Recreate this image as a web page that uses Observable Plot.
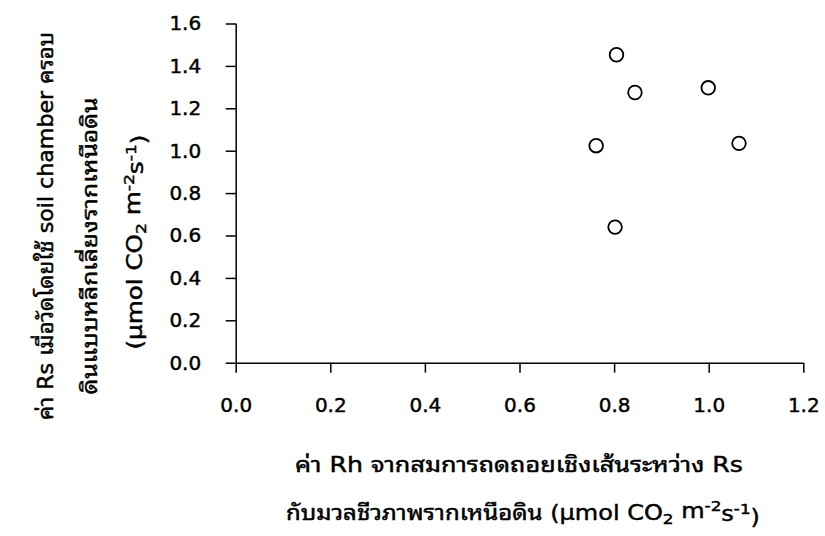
<!DOCTYPE html>
<html>
<head>
<meta charset="utf-8">
<script src="https://cdn.jsdelivr.net/npm/d3@7"></script>
<script src="https://cdn.jsdelivr.net/npm/@observablehq/plot@0.6"></script>
<style>
  html, body { margin: 0; padding: 0; background: #ffffff; }
  #chart { width: 825px; height: 536px; }
  #chart svg text { stroke: #000; stroke-width: 0.45px; paint-order: fill; }
</style>
</head>
<body>
<div id="chart"></div>
<script>
// Data
const rhValues = [0.761, 0.804, 0.801, 0.843, 0.998, 1.063]; // x: Rh from regression
const rsValues = [1.026, 1.455, 0.642, 1.277, 1.299, 1.037]; // y: Rs measured
const xTicks = [0.0, 0.2, 0.4, 0.6, 0.8, 1.0, 1.2];
const yTicks = [0.0, 0.2, 0.4, 0.6, 0.8, 1.0, 1.2, 1.4, 1.6];
const xTitleLines = ["ค่า Rh จากสมการถดถอยเชิงเส้นระหว่าง Rs", "กับมวลชีวภาพรากเหนือดิน"];
const yTitleLines = ["ค่า Rs เมื่อวัดโดยใช้ soil chamber ครอบ", "ดินแบบหลีกเลี่ยงรากเหนือดิน"];

const points = rhValues.map((x, i) => ({x, y: rsValues[i]}));
const FONT = "'DejaVu Sans', 'Noto Sans Thai Looped', Loma, Garuda, Tahoma, 'Noto Sans Thai', sans-serif";
const fmt = d => d.toFixed(1);

const chart = Plot.plot({
  width: 825,
  height: 536,
  marginLeft: 235.7,
  marginRight: 21.7,
  marginTop: 23.5,
  marginBottom: 173.3,
  style: {fontFamily: FONT, fontSize: "20px", color: "#000", background: "#fff", fontWeight: 400},
  x: {domain: [0, 1.2]},
  y: {domain: [0, 1.6]},
  marks: [
    Plot.axisX({ticks: xTicks, tickFormat: fmt, tickSize: 10, tickPadding: 25, label: null, strokeWidth: 1.5, stroke: "#000"}),
    Plot.axisY({ticks: yTicks, tickFormat: fmt, tickSize: 10, tickPadding: 25, label: null, strokeWidth: 1.5, stroke: "#000"}),
    Plot.ruleY([0], {stroke: "#000", strokeWidth: 1.5}),
    Plot.ruleX([0], {stroke: "#000", strokeWidth: 1.5}),
    Plot.dot(points, {x: "x", y: "y", r: 6.8, stroke: "#000", strokeWidth: 1.8, fill: "#fff"})
  ]
});
document.getElementById("chart").appendChild(chart);

const svg = d3.select(chart);
function addUnit(t) {
  t.append("tspan").text("(µmol CO");
  t.append("tspan").attr("dy", "0.3em").attr("font-size", "0.7em").text("2");
  t.append("tspan").attr("dy", "-0.3em").text(" m");
  t.append("tspan").attr("dy", "-0.45em").attr("font-size", "0.7em").text("-2");
  t.append("tspan").attr("dy", "0.45em").text("s");
  t.append("tspan").attr("dy", "-0.45em").attr("font-size", "0.7em").text("-1");
  t.append("tspan").attr("dy", "0.45em").text(")");
}
const tg = svg.append("g")
  .attr("font-family", FONT).attr("font-size", 21).attr("font-weight", 400).attr("fill", "#000");

function fit(t, len) {
  t.attr("textLength", len).attr("lengthAdjust", "spacingAndGlyphs");
}

// X title
fit(tg.append("text").attr("x", 519).attr("y", 471.7).attr("text-anchor", "middle").text(xTitleLines[0]), 448);
const x2 = tg.append("text").attr("x", 523).attr("y", 520).attr("text-anchor", "middle");
x2.append("tspan").text(xTitleLines[1] + " ");
addUnit(x2);
fit(x2, 474);

// Y title (rotated)
fit(tg.append("text").attr("transform", `translate(53,226) rotate(-90)`).attr("text-anchor", "middle").text(yTitleLines[0]), 388);
fit(tg.append("text").attr("transform", `translate(97,246) rotate(-90)`).attr("text-anchor", "middle").text(yTitleLines[1]), 297);
const y3 = tg.append("text").attr("transform", `translate(142,242) rotate(-90)`).attr("text-anchor", "middle");
addUnit(y3);
fit(y3, 215);
</script>
</body>
</html>
